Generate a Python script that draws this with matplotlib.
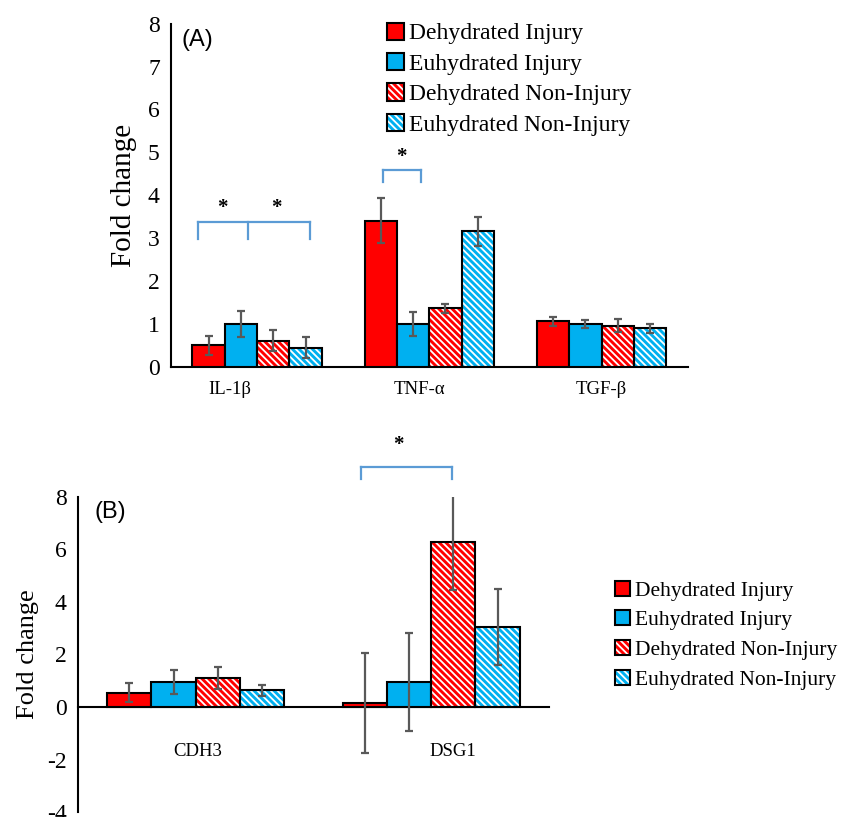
import matplotlib
matplotlib.use("Agg")
import matplotlib.pyplot as plt
from matplotlib.patches import Patch
import numpy as np

# panel A data
genes_a = ["IL-1\u03b2", "TNF-\u03b1", "TGF-\u03b2"]
dehyd_inj_a = [0.50, 3.41, 1.06]
euhyd_inj_a = [1.00, 1.00, 1.00]
dehyd_non_a = [0.61, 1.36, 0.96]
euhyd_non_a = [0.45, 3.16, 0.90]
dehyd_inj_a_err = [0.22, 0.52, 0.11]
euhyd_inj_a_err = [0.31, 0.27, 0.10]
dehyd_non_a_err = [0.24, 0.11, 0.15]
euhyd_non_a_err = [0.25, 0.34, 0.10]

# panel B data
genes_b = ["CDH3", "DSG1"]
dehyd_inj_b = [0.55, 0.15]
euhyd_inj_b = [0.95, 0.95]
dehyd_non_b = [1.12, 6.26]
euhyd_non_b = [0.63, 3.05]
dehyd_inj_b_err = [0.37, 1.90]
euhyd_inj_b_err = [0.47, 1.87]
dehyd_non_b_err = [0.42, 1.80]
euhyd_non_b_err = [0.20, 1.45]

labels = ["Dehydrated Injury", "Euhydrated Injury",
          "Dehydrated Non-Injury", "Euhydrated Non-Injury"]
RED = "#FF0000"
BLUE = "#00B0F0"
colors = [RED, BLUE, RED, BLUE]
hatched = [False, False, True, True]
HATCH = "\\\\\\\\\\"

plt.rcParams["hatch.color"] = "white"
plt.rcParams["hatch.linewidth"] = 1.3
plt.rcParams["axes.unicode_minus"] = False
serif = "Liberation Serif"
sans = "Liberation Sans"

W = 0.1875
offsets = np.array([-1.5, -0.5, 0.5, 1.5]) * W


def draw_bars(ax, series, errs):
    x = np.arange(len(series[0]))
    for i, (vals, err) in enumerate(zip(series, errs)):
        xi = x + offsets[i]
        if hatched[i]:
            ax.bar(xi, vals, W, color=colors[i], hatch=HATCH, linewidth=0, zorder=2)
            ax.bar(xi, vals, W, fill=False, edgecolor="black", linewidth=1.5, zorder=3)
        else:
            ax.bar(xi, vals, W, color=colors[i], edgecolor="black", linewidth=1.5, zorder=3)
        ax.errorbar(xi, vals, yerr=err, fmt="none", ecolor="#595959",
                    elinewidth=1.6, capsize=3, capthick=1.6, zorder=4)


def legend_handles():
    hs = []
    for i in range(4):
        if hatched[i]:
            p1 = Patch(facecolor=colors[i], hatch=HATCH, linewidth=0)
            p2 = Patch(fill=False, edgecolor="black", linewidth=1.5)
            hs.append((p1, p2))
        else:
            hs.append(Patch(facecolor=colors[i], edgecolor="black", linewidth=1.5))
    return hs


def bracket(ax, xs, y0, y1):
    kw = dict(color="#5B9BD5", lw=1.6, clip_on=False, zorder=5)
    ax.plot([xs[0], xs[-1]], [y1, y1], **kw)
    for xv in xs:
        ax.plot([xv, xv], [y0, y1], **kw)


def star(ax, x, y):
    ax.text(x, y, "*", ha="center", va="center", fontsize=15,
            family=serif, fontweight="bold", clip_on=False)


def style_axes(ax, tick_size):
    ax.tick_params(axis="y", length=0, pad=8, labelsize=tick_size)
    for t in ax.get_yticklabels():
        t.set_family(serif)
    ax.set_xticks([])
    for s in ["top", "right"]:
        ax.spines[s].set_visible(False)
    for s in ["left", "bottom"]:
        ax.spines[s].set_linewidth(1.5)


fig = plt.figure(figsize=(8.46, 8.17), dpi=100)

# ---- panel A
axa = fig.add_axes([0.202, 0.551, 0.611, 0.420])
draw_bars(axa, [dehyd_inj_a, euhyd_inj_a, dehyd_non_a, euhyd_non_a],
          [dehyd_inj_a_err, euhyd_inj_a_err, dehyd_non_a_err, euhyd_non_a_err])
axa.set_xlim(-0.5, 2.5)
axa.set_ylim(0, 8)
axa.set_yticks(range(0, 9))
style_axes(axa, 17)
# category labels sit slightly off-centre in the original
label_x_a = [-0.16, 0.94, 2.0]
for xv, g in zip(label_x_a, genes_a):
    axa.text(xv, -0.52, g, ha="center", va="center", family=serif, fontsize=13.5)
axa.set_ylabel("Fold change", family=serif, fontsize=21, labelpad=8)
axa.text(0.02, 0.985, "(A)", transform=axa.transAxes, family=sans,
         fontsize=17, va="top", ha="left")
bracket(axa, [-0.34, -0.05, 0.31], 2.98, 3.37)
bracket(axa, [0.73, 0.95], 4.31, 4.59)
star(axa, -0.20, 3.7)
star(axa, 0.11, 3.7)
star(axa, 0.84, 4.9)
fig.legend(legend_handles(), labels, loc="upper left",
           bbox_to_anchor=(0.446, 0.984), frameon=False,
           prop={"family": serif, "size": 17}, handlelength=0.75,
           handleheight=0.75, handletextpad=0.2, labelspacing=0.36,
           borderaxespad=0)

# ---- panel B
axb = fig.add_axes([0.092, 0.006, 0.557, 0.386])
draw_bars(axb, [dehyd_inj_b, euhyd_inj_b, dehyd_non_b, euhyd_non_b],
          [dehyd_inj_b_err, euhyd_inj_b_err, dehyd_non_b_err, euhyd_non_b_err])
axb.set_xlim(-0.5, 1.5)
axb.set_ylim(-4, 8)
axb.set_yticks(range(-4, 9, 2))
axb.spines["bottom"].set_position(("data", 0))
style_axes(axb, 17)
label_x_b = [0.01, 1.09]
for xv, g in zip(label_x_b, genes_b):
    axb.text(xv, -1.68, g, ha="center", va="center", family=serif, fontsize=13.5)
axb.set_ylabel("Fold change", family=serif, fontsize=19, labelpad=6)
axb.text(0.035, 0.985, "(B)", transform=axb.transAxes, family=sans,
         fontsize=17, va="top", ha="left")
bracket(axb, [0.70, 1.09], 8.66, 9.14)
star(axb, 0.86, 9.97)
fig.legend(legend_handles(), labels, loc="upper left",
           bbox_to_anchor=(0.717, 0.300), frameon=False,
           prop={"family": serif, "size": 15.5}, handlelength=0.7,
           handleheight=0.7, handletextpad=0.2, labelspacing=0.45,
           borderaxespad=0)

fig.savefig("out.png", dpi=100)
